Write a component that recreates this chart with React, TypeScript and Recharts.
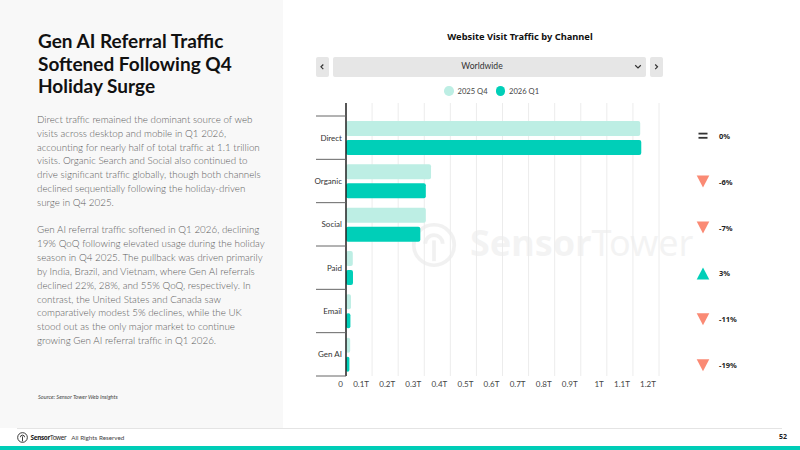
import React from "react";
import { BarChart, Bar, XAxis, YAxis, CartesianGrid } from "recharts";

// Website visits by channel, in trillions
const channels = ["Direct", "Organic", "Social", "Paid", "Email", "Gen AI"];
const visitsQ4 = [1.128, 0.326, 0.306, 0.026, 0.019, 0.016];
const visitsQ1 = [1.132, 0.306, 0.285, 0.0268, 0.0169, 0.013];
const seriesNames = ["2025 Q4", "2026 Q1"];
const xTicks = [0, 0.1, 0.2, 0.3, 0.4, 0.5, 0.6, 0.7, 0.8, 0.9, 1, 1.1, 1.2];

const titleLines = ["Gen AI Referral Traffic", "Softened Following Q4", "Holiday Surge"];
const paragraphOne = [
  "Direct traffic remained the dominant source of web",
  "visits across desktop and mobile in Q1 2026,",
  "accounting for nearly half of total traffic at 1.1 trillion",
  "visits. Organic Search and Social also continued to",
  "drive significant traffic globally, though both channels",
  "declined sequentially following the holiday-driven",
  "surge in Q4 2025.",
];
const paragraphTwo = [
  "Gen AI referral traffic softened in Q1 2026, declining",
  "19% QoQ following elevated usage during the holiday",
  "season in Q4 2025. The pullback was driven primarily",
  "by India, Brazil, and Vietnam, where Gen AI referrals",
  "declined 22%, 28%, and 55% QoQ, respectively. In",
  "contrast, the United States and Canada saw",
  "comparatively modest 5% declines, while the UK",
  "stood out as the only major market to continue",
  "growing Gen AI referral traffic in Q1 2026.",
];

const rows = channels.map((channel, i) => ({
  channel,
  q4: visitsQ4[i],
  q1: visitsQ1[i],
}));

const changes = channels.map((_, i) => Math.round((visitsQ1[i] / visitsQ4[i] - 1) * 100));

const LIGHT = "#bdeee4";
const TEAL = "#00cfb8";
const SALMON = "#fa8a74";
const BODY = "'Lato', 'Open Sans', sans-serif";
const HEAD = "'Noto Sans', 'Open Sans', sans-serif";

// chart geometry
const CHART_W = 365;
const CHART_H = 400;
const M_TOP = 103;
const X_H = 24;
const PAD_TOP = 13;
const Y_W = 46;
const BAND = (CHART_H - M_TOP - X_H - PAD_TOP) / channels.length;

const fmtTick = (v: number) => (v === 0 ? "0" : `${v}T`);

const XTick = (props: any) => {
  const { x, y, payload } = props;
  return (
    <text x={x - 3} y={y} textAnchor="end" dominantBaseline="central" fontSize={8} fill="#444" fontFamily={BODY}>
      {fmtTick(payload.value)}
    </text>
  );
};

const YTick = (props: any) => {
  const { x, y, payload, index } = props;
  const axisX = x + 4;
  return (
    <g>
      <line x1={axisX - 30} x2={axisX} y1={y - BAND / 2} y2={y - BAND / 2} stroke="#666" strokeWidth={1} />
      {index === channels.length - 1 && (
        <line x1={axisX - 30} x2={axisX} y1={y + BAND / 2} y2={y + BAND / 2} stroke="#666" strokeWidth={1} />
      )}
      <text x={x} y={y} textAnchor="end" dominantBaseline="central" fontSize={8} fill="#333" fontFamily={BODY}>
        {payload.value}
      </text>
    </g>
  );
};

const ChangeIcon = ({ value }: { value: number }) => {
  if (value === 0) {
    return (
      <g>
        <rect x={-4.5} y={-3} width={9} height={1.8} fill="#333" />
        <rect x={-4.5} y={1.2} width={9} height={1.8} fill="#333" />
      </g>
    );
  }
  if (value > 0) {
    return <polygon points="-6.3,6 6.3,6 0,-6" fill={TEAL} />;
  }
  return <polygon points="-6.3,-6 6.3,-6 0,6" fill={SALMON} />;
};

const SensorLogo = ({ size, color }: { size: number; color: string }) => (
  <svg width={size} height={size} viewBox="0 0 20 20" style={{ display: "block" }}>
    <circle cx={10} cy={10} r={8.8} fill="none" stroke={color} strokeWidth={1.6} />
    <path d="M6.2 9.5 A3.8 3.8 0 1 1 13.8 9.5" fill="none" stroke={color} strokeWidth={1.6} />
    <line x1={10} y1={8} x2={10} y2={17} stroke={color} strokeWidth={1.6} />
  </svg>
);

export default function App() {
  return (
    <div style={{ position: "absolute", left: 0, top: 0, width: 800, height: 450, background: "#fff", overflow: "hidden" }}>
      {/* left text panel */}
      <div style={{ position: "absolute", left: 0, top: 0, width: 283, height: 428, background: "#f8f8f8" }} />
      <div style={{ position: "absolute", left: 38, top: 30, fontFamily: BODY, fontWeight: 700, fontSize: 19, lineHeight: "22.5px", color: "#111", whiteSpace: "nowrap" }}>
        {titleLines.map((l) => (
          <div key={l}>{l}</div>
        ))}
      </div>
      <div style={{ position: "absolute", left: 37, top: 113, fontFamily: BODY, fontWeight: 300, fontSize: 9.8, lineHeight: "13.8px", color: "#5c5c5c", whiteSpace: "nowrap" }}>
        {paragraphOne.map((l) => (
          <div key={l}>{l}</div>
        ))}
      </div>
      <div style={{ position: "absolute", left: 37, top: 223, fontFamily: BODY, fontWeight: 300, fontSize: 9.8, lineHeight: "13.9px", color: "#5c5c5c", whiteSpace: "nowrap" }}>
        {paragraphTwo.map((l) => (
          <div key={l}>{l}</div>
        ))}
      </div>
      <div style={{ position: "absolute", left: 38, top: 393, fontFamily: BODY, fontStyle: "italic", fontSize: 5.6, color: "#444", whiteSpace: "nowrap" }}>
        Source: Sensor Tower Web Insights
      </div>

      {/* chart heading and region selector */}
      <div style={{ position: "absolute", left: 320, width: 400, top: 30, textAlign: "center", fontFamily: HEAD, fontWeight: 700, fontSize: 9.3, color: "#111" }}>
        Website Visit Traffic by Channel
      </div>
      <div style={{ position: "absolute", left: 316, top: 57, width: 12.5, height: 19.5, background: "#e6e6e6", borderRadius: 2 }}>
        <svg width={12.5} height={19.5}><path d="M7.3 7.5 L5 9.8 L7.3 12.1" fill="none" stroke="#333" strokeWidth={1.2} /></svg>
      </div>
      <div style={{ position: "absolute", left: 332.5, top: 57, width: 313, height: 19.5, background: "#e6e6e6", borderRadius: 2, fontFamily: BODY, fontSize: 8.6, color: "#333", lineHeight: "19.5px", textAlign: "center" }}>
        <span style={{ position: "relative", left: -7 }}>Worldwide</span>
        <svg width={8} height={6} style={{ position: "absolute", left: 301, top: 7 }}><path d="M1.2 1.3 L4 4 L6.8 1.3" fill="none" stroke="#333" strokeWidth={1.2} /></svg>
      </div>
      <div style={{ position: "absolute", left: 650, top: 57, width: 12.5, height: 19.5, background: "#e6e6e6", borderRadius: 2 }}>
        <svg width={12.5} height={19.5}><path d="M5.2 7.5 L7.5 9.8 L5.2 12.1" fill="none" stroke="#333" strokeWidth={1.2} /></svg>
      </div>

      {/* legend */}
      <div style={{ position: "absolute", left: 444, top: 85.8, display: "flex", alignItems: "center", fontFamily: BODY, fontSize: 7.6, color: "#444", whiteSpace: "nowrap" }}>
        {seriesNames.map((name, i) => (
          <div key={name} style={{ display: "flex", alignItems: "center", marginRight: 8 }}>
            <span style={{ width: 9.5, height: 9.5, borderRadius: "50%", background: i === 0 ? LIGHT : TEAL, marginRight: 4, display: "inline-block" }} />
            <span>{name}</span>
          </div>
        ))}
      </div>

      {/* faint brand mark behind the plot */}
      <div style={{ position: "absolute", left: 411, top: 222, opacity: 0.05 }}>
        <SensorLogo size={46} color="#000" />
      </div>
      <div style={{ position: "absolute", left: 470, top: 218, fontFamily: HEAD, fontSize: 36, color: "#000", opacity: 0.045, whiteSpace: "nowrap", lineHeight: "50px" }}>
        <span style={{ fontWeight: 700 }}>Sensor</span>
        <span style={{ fontWeight: 400 }}>Tower</span>
      </div>

      <div style={{ position: "absolute", left: 300, top: 0 }}>
        <BarChart
          width={CHART_W}
          height={CHART_H}
          data={rows}
          layout="vertical"
          margin={{ top: M_TOP, right: 6, bottom: 0, left: 0 }}
          barSize={15}
          barGap={4}
        >
          <CartesianGrid horizontal={false} vertical stroke="#ececec" strokeWidth={1} />
          <XAxis
            type="number"
            domain={[0, 1.2]}
            ticks={xTicks}
            interval={0}
            axisLine={false}
            tickLine={false}
            tickSize={0}
            tickMargin={8}
            tick={<XTick />}
            height={X_H}
          />
          <YAxis
            type="category"
            dataKey="channel"
            width={Y_W}
            padding={{ top: PAD_TOP, bottom: 0 }}
            axisLine={{ stroke: "#222", strokeWidth: 1.5 }}
            tickLine={false}
            tickSize={0}
            tickMargin={4}
            interval={0}
            tick={<YTick />}
          />
          <Bar dataKey="q4" name={seriesNames[0]} fill={LIGHT} radius={2} isAnimationActive={false} />
          <Bar dataKey="q1" name={seriesNames[1]} fill={TEAL} radius={2} isAnimationActive={false} />
        </BarChart>
      </div>

      {/* quarter-over-quarter change column */}
      <svg style={{ position: "absolute", left: 680, top: 100 }} width={100} height={300}>
        {changes.map((c, i) => (
          <g key={channels[i]} transform={`translate(23, ${35.7 + i * 45.9})`}>
            <ChangeIcon value={c} />
            <text x={16} y={0} dominantBaseline="central" fontSize={7.5} fontWeight={700} fill="#222" fontFamily={HEAD}>
              {`${c}%`}
            </text>
          </g>
        ))}
      </svg>

      {/* footer */}
      <div style={{ position: "absolute", left: 17, top: 428, width: 765, height: 1, background: "#e4e4e4" }} />
      <div style={{ position: "absolute", left: 17, top: 432, display: "flex", alignItems: "center", whiteSpace: "nowrap" }}>
        <SensorLogo size={11} color="#222" />
        <span style={{ marginLeft: 2.5, fontFamily: HEAD, fontSize: 6.4, color: "#222", letterSpacing: -0.35 }}>
          <span style={{ fontWeight: 700 }}>Sensor</span>Tower
        </span>
        <span style={{ marginLeft: 5, fontFamily: BODY, fontSize: 6.3, color: "#444" }}>All Rights Reserved</span>
      </div>
      <div style={{ position: "absolute", left: 779, top: 432, fontFamily: HEAD, fontWeight: 700, fontSize: 7, color: "#222" }}>52</div>
      <div style={{ position: "absolute", left: 0, top: 445.7, width: 800, height: 5, background: "#00cdb7" }} />
    </div>
  );
}
